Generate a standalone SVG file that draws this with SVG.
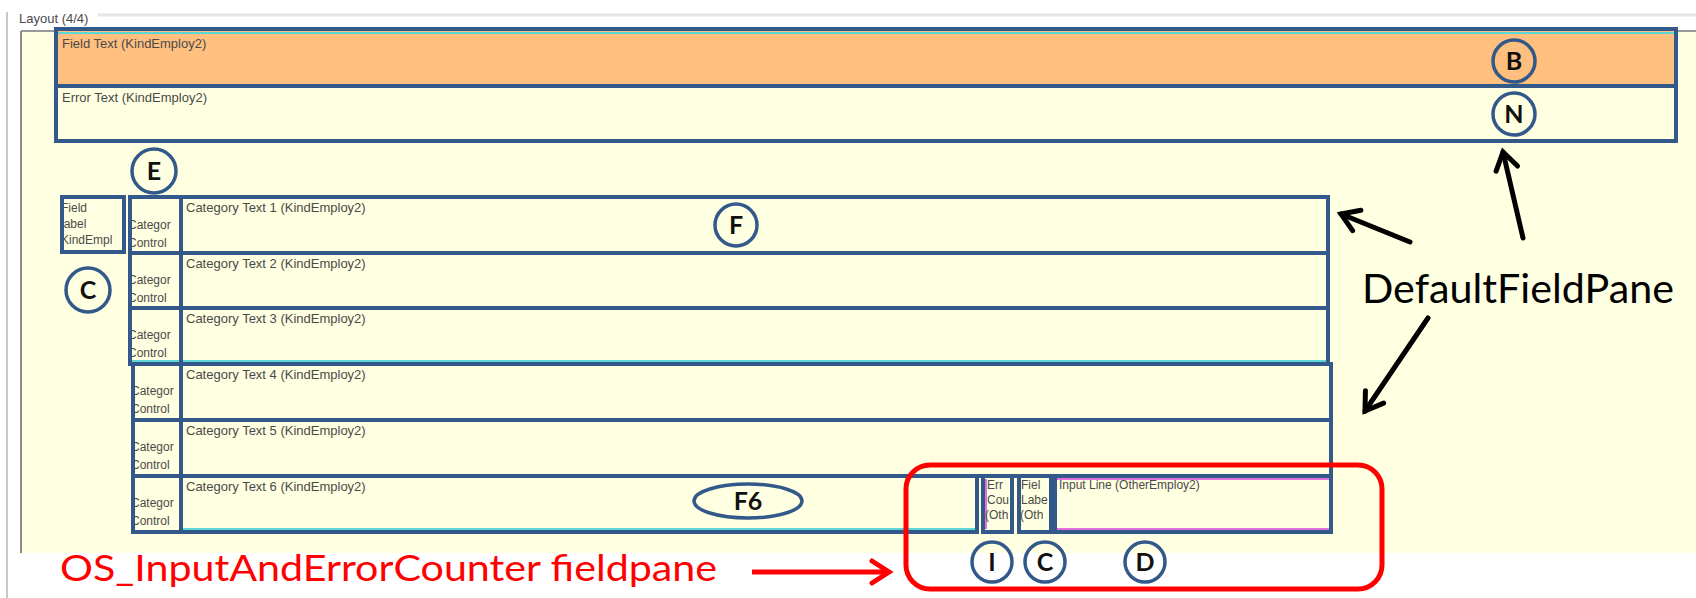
<svg xmlns="http://www.w3.org/2000/svg" width="1696" height="598" viewBox="0 0 1696 598">
<style>
.small{font-family:"Liberation Sans",Arial,sans-serif;font-size:13px;fill:#4a4a4a}
.tiny{font-family:"Liberation Sans",Arial,sans-serif;font-size:12px;fill:#4a4a4a}
.cell{fill:#FFFFE1}
.edge{fill:none;stroke:#33598A;stroke-width:4}
.tag{fill:none;stroke:#33598A;stroke-width:3.5}
.tagtxt{font-family:Lato,"Liberation Sans",sans-serif;font-weight:bold;font-size:25px;fill:#111;text-anchor:middle}
.arrow{fill:none;stroke:#000;stroke-width:5;stroke-linecap:round}
.red{fill:none;stroke:#FF0000;stroke-width:5}
</style>
<defs>
<marker id="ah" markerUnits="userSpaceOnUse" markerWidth="30" markerHeight="30" viewBox="0 0 30 30" refX="25" refY="15" orient="auto">
<path d="M8,4 L25,15 L8,26" fill="none" stroke="#000" stroke-width="5" stroke-linecap="round" stroke-linejoin="miter"/>
</marker>
<marker id="ahr" markerUnits="userSpaceOnUse" markerWidth="30" markerHeight="30" viewBox="0 0 30 30" refX="25" refY="15" orient="auto">
<path d="M8,4 L25,15 L8,26" fill="none" stroke="#FF0000" stroke-width="5" stroke-linecap="round"/>
</marker>
</defs>
<rect width="1696" height="598" fill="#fff"/>
<g id="panel">
<line x1="7" y1="12" x2="7" y2="598" stroke="#c8c8c8" stroke-width="2"/>
<line x1="98" y1="15" x2="1696" y2="15" stroke="#e2e4e8" stroke-width="3"/>
<rect x="21" y="31" width="1675" height="522" fill="#FFFFE1"/>
<line x1="21" y1="31" x2="1696" y2="31" stroke="#9a9a9a" stroke-width="2"/>
<line x1="21" y1="31" x2="21" y2="553" stroke="#8a8a8a" stroke-width="2"/>
<text x="19" y="23" class="small" fill="#333">Layout (4/4)</text>
</g>
<g id="field-text">
<rect x="56" y="29" width="1620" height="57" fill="#FFBF7F"/>
<line x1="58" y1="33" x2="1674" y2="33" stroke="#5fd6d6" stroke-width="2"/>
<text x="62" y="48" class="small">Field Text (KindEmploy2)</text>
<rect x="56" y="29" width="1620" height="57" class="edge"/>
</g>
<g id="error-text">
<rect x="56" y="86" width="1620" height="55" class="cell"/>
<text x="62" y="102" class="small">Error Text (KindEmploy2)</text>
<rect x="56" y="86" width="1620" height="55" class="edge"/>
</g>
<g id="field-label">
<rect x="62" y="197" width="62" height="55" class="cell"/>
<text x="61" y="212" class="tiny">Field</text>
<text x="61" y="228" class="tiny">label</text>
<text x="61" y="244" class="tiny">KindEmpl</text>
<rect x="62" y="197" width="62" height="55" class="edge"/>
</g>
<g id="row-1">
<rect x="130" y="197" width="1198" height="56" class="cell"/>
<text x="128" y="229" class="tiny">Categor</text>
<text x="128" y="247" class="tiny">Control</text>
<text x="186" y="212" class="small">Category Text 1 (KindEmploy2)</text>
<rect x="130" y="197" width="51" height="56" class="edge"/>
<rect x="181" y="197" width="1147" height="56" class="edge"/>
</g>
<g id="row-2">
<rect x="130" y="253" width="1198" height="55" class="cell"/>
<text x="128" y="284" class="tiny">Categor</text>
<text x="128" y="302" class="tiny">Control</text>
<text x="186" y="268" class="small">Category Text 2 (KindEmploy2)</text>
<rect x="130" y="253" width="51" height="55" class="edge"/>
<rect x="181" y="253" width="1147" height="55" class="edge"/>
</g>
<g id="row-3">
<rect x="130" y="308" width="1198" height="56" class="cell"/>
<line x1="132" y1="361" x2="1326" y2="361" stroke="#5fd6d6" stroke-width="2"/>
<text x="128" y="339" class="tiny">Categor</text>
<text x="128" y="357" class="tiny">Control</text>
<text x="186" y="323" class="small">Category Text 3 (KindEmploy2)</text>
<rect x="130" y="308" width="51" height="56" class="edge"/>
<rect x="181" y="308" width="1147" height="56" class="edge"/>
</g>
<g id="row-4">
<rect x="133" y="364" width="1198" height="56" class="cell"/>
<text x="131" y="395" class="tiny">Categor</text>
<text x="131" y="413" class="tiny">Control</text>
<text x="186" y="379" class="small">Category Text 4 (KindEmploy2)</text>
<rect x="133" y="364" width="48" height="56" class="edge"/>
<rect x="181" y="364" width="1150" height="56" class="edge"/>
</g>
<g id="row-5">
<rect x="133" y="420" width="1198" height="56" class="cell"/>
<text x="131" y="451" class="tiny">Categor</text>
<text x="131" y="469" class="tiny">Control</text>
<text x="186" y="435" class="small">Category Text 5 (KindEmploy2)</text>
<rect x="133" y="420" width="48" height="56" class="edge"/>
<rect x="181" y="420" width="1150" height="56" class="edge"/>
</g>
<g id="row-6">
<rect x="133" y="476" width="844" height="56" class="cell"/>
<line x1="183" y1="529" x2="975" y2="529" stroke="#5fd6d6" stroke-width="2"/>
<text x="131" y="507" class="tiny">Categor</text>
<text x="131" y="525" class="tiny">Control</text>
<text x="186" y="491" class="small">Category Text 6 (KindEmploy2)</text>
<rect x="133" y="476" width="48" height="56" class="edge"/>
<rect x="181" y="476" width="796" height="56" class="edge"/>
</g>
<g id="error-counter">
<rect x="983" y="476" width="29" height="56" class="cell"/>
<line x1="986" y1="479" x2="986" y2="529" stroke="#e070e0" stroke-width="2"/>
<text x="987" y="489" class="tiny">Err</text>
<text x="987" y="504" class="tiny">Cou</text>
<text x="985" y="519" class="tiny">(Oth</text>
<rect x="983" y="476" width="29" height="56" class="edge"/>
</g>
<g id="other-field-label">
<rect x="1019" y="476" width="32" height="56" class="cell"/>
<text x="1021" y="489" class="tiny">Fiel</text>
<text x="1021" y="504" class="tiny">Labe</text>
<text x="1020" y="519" class="tiny">(Oth</text>
<rect x="1019" y="476" width="32" height="56" class="edge"/>
</g>
<g id="input-line">
<rect x="1055" y="476" width="276" height="56" class="cell"/>
<line x1="1057" y1="529" x2="1329" y2="529" stroke="#e070e0" stroke-width="2"/>
<line x1="1057" y1="479" x2="1329" y2="479" stroke="#e070e0" stroke-width="2"/>
<text x="1059" y="489" class="tiny">Input Line (OtherEmploy2)</text>
<rect x="1055" y="476" width="276" height="56" class="edge"/>
</g>
<g id="tags">
<circle cx="1514" cy="61" r="21" fill="#FFBF7F" class="tag"/><text x="1514" y="70" class="tagtxt">B</text>
<circle cx="1514" cy="114" r="21" fill="#FFFFE1" class="tag"/><text x="1514" y="123" class="tagtxt">N</text>
<circle cx="154" cy="171" r="22" fill="#FFFFE1" class="tag"/><text x="154" y="180" class="tagtxt">E</text>
<circle cx="88" cy="290" r="22" fill="#FFFFE1" class="tag"/><text x="88" y="299" class="tagtxt">C</text>
<circle cx="736" cy="225" r="21" fill="#FFFFE1" class="tag"/><text x="736" y="234" class="tagtxt">F</text>
<ellipse cx="748" cy="501" rx="54" ry="17" fill="#FFFFE1" class="tag"/><text x="748" y="510" class="tagtxt">F6</text>
<circle cx="992" cy="562" r="20" fill="#fff" class="tag"/><text x="992" y="571" class="tagtxt">I</text>
<circle cx="1045" cy="562" r="20" fill="#fff" class="tag"/><text x="1045" y="571" class="tagtxt">C</text>
<circle cx="1145" cy="562" r="20" fill="#fff" class="tag"/><text x="1145" y="571" class="tagtxt">D</text>
</g>
<g id="annotations">
<rect id="os-input-pane" x="906" y="465" width="476" height="124" rx="24" class="red"/>
<text id="default-label" x="1362" y="303" font-family="Lato,'Liberation Sans',sans-serif" font-size="40" fill="#000" textLength="312" lengthAdjust="spacingAndGlyphs">DefaultFieldPane</text>
<text id="os-label" x="60" y="581" font-family="Lato,'Liberation Sans',sans-serif" font-size="37" fill="#FF0000" textLength="657" lengthAdjust="spacingAndGlyphs">OS_InputAndErrorCounter fieldpane</text>
</g>
<g id="connectors">
<line x1="1523" y1="238" x2="1503" y2="152" class="arrow" marker-end="url(#ah)"/>
<line x1="1410" y1="242" x2="1341" y2="214" class="arrow" marker-end="url(#ah)"/>
<line x1="1428" y1="318" x2="1365" y2="411" class="arrow" marker-end="url(#ah)"/>
<line x1="752" y1="572" x2="889" y2="572" stroke="#FF0000" stroke-width="5" marker-end="url(#ahr)"/>
</g>
</svg>
